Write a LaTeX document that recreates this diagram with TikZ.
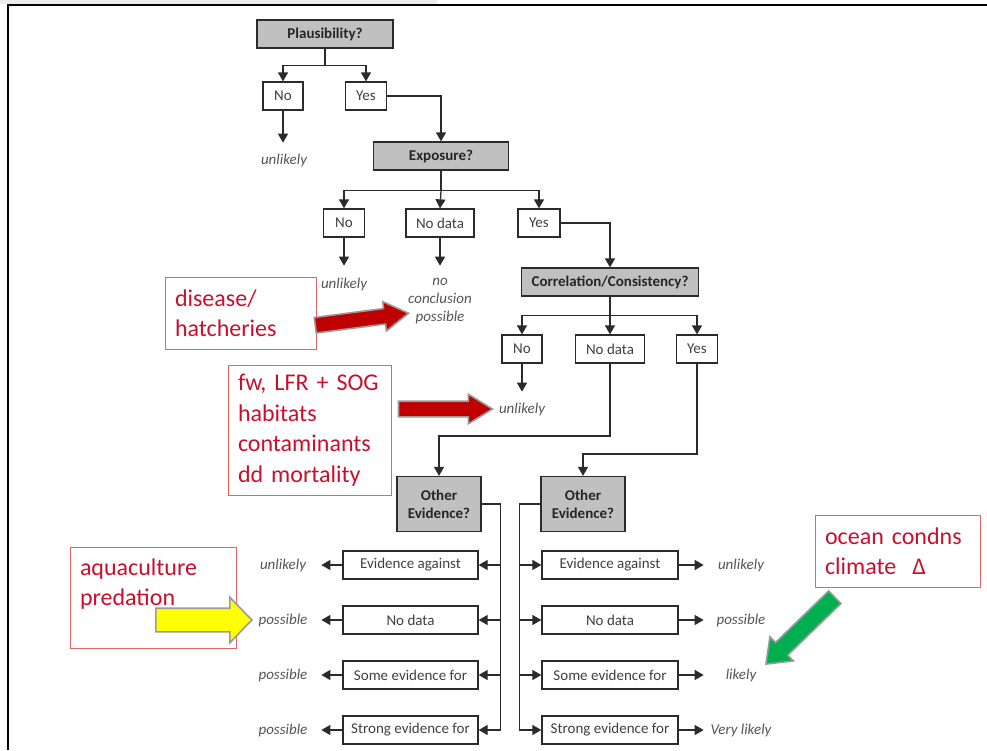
\documentclass[tikz,border=0pt]{standalone}
\usepackage{fontspec}
\setmainfont{Carlito}
\usepackage{xcolor}
\definecolor{edge}{HTML}{2B2B2B}
\definecolor{labelgray}{HTML}{404040}
\definecolor{resgray}{HTML}{555555}
\definecolor{qfill}{HTML}{C0C0C0}
\definecolor{notered}{HTML}{C8102E}
\definecolor{noteframe}{HTML}{E06666}
\definecolor{blockred}{HTML}{C00000}
\definecolor{blockgreen}{HTML}{00B050}
\definecolor{blockyellow}{HTML}{FFFF00}
\definecolor{blockrim}{HTML}{9A9A9A}
\usetikzlibrary{arrows.meta, calc, shapes.arrows}

\begin{document}
\begin{tikzpicture}[
  x=1pt, y=-1pt,
  font=\fontsize{15}{18}\selectfont,
  qbox/.style={
    draw=edge, fill=qfill, line width=1.3pt, minimum height=28pt,
    inner sep=0pt, text=black!85, font=\fontsize{15}{18}\selectfont\bfseries
  },
  obox/.style={
    draw=edge, fill=white, line width=1.3pt, minimum height=28pt,
    inner sep=0pt, text=labelgray
  },
  res/.style={text=resgray, font=\fontsize{15}{18}\selectfont\itshape, inner sep=2pt},
  link/.style={draw=edge, line width=1.3pt, -{Triangle[length=9pt,width=10pt]}},
  trunk/.style={draw=edge, line width=1.3pt},
  note/.style={
    draw=noteframe, line width=1pt, text=notered, align=left,
    inner xsep=10pt, inner ysep=0pt, font=\fontsize{24}{30.5}\selectfont
  },
  pointer/.style={
    single arrow, draw=blockrim, line width=1.6pt, inner xsep=0pt,
    minimum width=0pt, single arrow head indent=0pt,
    anchor=tip, sloped, allow upside down
  }
]
  \useasboundingbox (0,0) rectangle (987,750);
  \fill[gray!15] (0,0) rectangle (437,4);
  \draw[line width=2pt] (8,750) -- (8,5) -- (987,5);

  \node[qbox, minimum width=136pt] (plaus) at (325,34) {Plausibility?};
  \node[obox, minimum width=40pt] (pno) at (283,96) {No};
  \node[obox, minimum width=41pt] (pyes) at (366,96) {Yes};
  \node[res] (pu) at (284,160) {unlikely};
  \draw[trunk] (plaus.south) -- ++(0,17) coordinate (pj);
  \draw[link] (pj) -| (pno.north);
  \draw[link] (pj) -| (pyes.north);
  \draw[link] (pno.south) -- ++(0,32);

  \node[qbox, minimum width=135pt] (expo) at (441,156) {Exposure?};
  \node[obox, minimum width=41pt] (eno) at (344,223) {No};
  \node[obox, minimum width=68pt] (end) at (440,223) {No data};
  \node[obox, minimum width=42pt] (eyes) at (539,223) {Yes};
  \node[res] (eu) at (344,284) {unlikely};
  \node[res, align=center] (enc) at (440,301) {no\\conclusion\\possible};
  \draw[link] (pyes.east) -| (expo.north);
  \draw[trunk] (expo.south) -- ++(0,20) coordinate (ej);
  \draw[link] (ej) -| (eno.north);
  \draw[link] (ej) -- (end.north);
  \draw[link] (ej) -| (eyes.north);
  \draw[link] (eno.south) -- ++(0,28);
  \draw[link] (end.south) -- ++(0,28);

  \node[qbox, minimum width=177pt] (corr) at (610,282) {Correlation/Consistency?};
  \node[obox, minimum width=40pt] (cno) at (522,349) {No};
  \node[obox, minimum width=69pt] (cnd) at (610,349) {No data};
  \node[obox, minimum width=41pt] (cyes) at (697,349) {Yes};
  \node[res] (cu) at (522,409) {unlikely};
  \draw[link] (eyes.east) -| (corr.north);
  \draw[trunk] (corr.south) -- ++(0,19) coordinate (cj);
  \draw[link] (cj) -| (cno.north);
  \draw[link] (cj) -- (cnd.north);
  \draw[link] (cj) -| (cyes.north);
  \draw[link] (cno.south) -- ++(0,28);

  \node[qbox, minimum width=84pt, minimum height=55pt, align=center] (oeL) at (439,504) {Other\\Evidence?};
  \node[qbox, minimum width=84pt, minimum height=55pt, align=center] (oeR) at (583,504) {Other\\Evidence?};
  \draw[link] (cnd.south) |- ([yshift=40pt]oeL.north) -- (oeL.north);
  \draw[link] (cyes.south) |- ([yshift=22pt]oeR.north) -- (oeR.north);

  \coordinate (ltr) at ($(oeL.east)+(19,0)$);
  \coordinate (rtr) at ($(oeR.west)+(-21,0)$);
  \foreach \lab/\yy/\lres/\rres [count=\i] in {Evidence against/565/unlikely/unlikely,
      No data/620/possible/possible, Some evidence for/675/possible/likely,
      Strong evidence for/730/possible/Very likely} {
    \node[obox, minimum width=135pt] (l\i) at (410.5,\yy) {\lab};
    \node[obox, minimum width=136pt] (r\i) at (610,\yy) {\lab};
    \node[res] (lr\i) at (283,\yy) {\lres};
    \node[res] (rr\i) at (741,\yy) {\rres};
    \draw[link] (ltr |- l\i.east) -- (l\i.east);
    \draw[link] (rtr |- r\i.west) -- (r\i.west);
    \draw[link] (l\i.west) -- ++(-21,0);
    \draw[link] (r\i.east) -- ++(25,0);
  }
  \draw[trunk] (oeL.east) -- (ltr) -- (ltr |- l4.east);
  \draw[trunk] (oeR.west) -- (rtr) -- (rtr |- r4.west);

  \node[note, text width=131pt, minimum height=72pt] (dis) at (240.5,313) {disease/\\hatcheries};
  \node[note, text width=143pt, minimum height=130pt] (fw) at (309.5,430)
    {fw, LFR + SOG\\habitats\\contaminants\\dd mortality};
  \node[note, text width=146pt, minimum height=101pt] (aqua) at (153,597.5)
    {aquaculture\\predation\\\mbox{}};
  \node[note, text width=145pt, minimum height=72pt] (ocean) at (897.5,551)
    {ocean condns\\climate\ \ Δ};

  \coordinate (p1t) at (317,325);
  \coordinate (p1h) at (410,313);
  \coordinate (p2t) at (400,409);
  \coordinate (p2h) at (494,409);
  \coordinate (p3t) at (157,620);
  \coordinate (p3h) at (253,620);
  \coordinate (p4t) at (834,598);
  \coordinate (p4h) at (765,665);
  \path (p1t) -- node[pointer, pos=1, fill=blockred, minimum height=94pt, inner ysep=7pt,
    single arrow head extend=7pt, single arrow tip angle=63] {} (p1h);
  \path (p2t) -- node[pointer, pos=1, fill=blockred, minimum height=94pt, inner ysep=7pt,
    single arrow head extend=7pt, single arrow tip angle=63] {} (p2h);
  \path (p3t) -- node[pointer, pos=1, fill=blockyellow, minimum height=96pt, inner ysep=11pt,
    single arrow head extend=11pt, single arrow tip angle=92] {} (p3h);
  \path (p4t) -- node[pointer, pos=1, fill=blockgreen, minimum height=96pt, inner ysep=8pt,
    single arrow head extend=8pt, single arrow tip angle=75] {} (p4h);
\end{tikzpicture}
\end{document}
